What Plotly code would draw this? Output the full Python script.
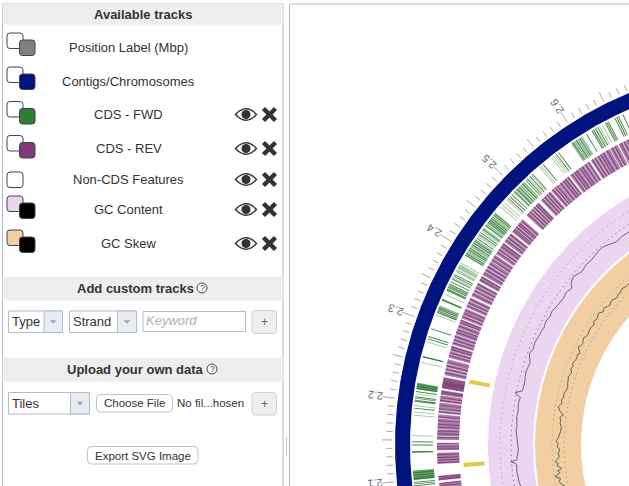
import numpy as np
import plotly.graph_objects as go

# genome positions are in Mbp, the map turns 125 degrees per Mbp
tick_labels = ["2.1", "2.2", "2.3", "2.4", "2.5", "2.6"]

fwd_solid = [(2.1, 2.112), (2.1344, 2.136), (2.2144, 2.2224), (2.2552, 2.2568)]
fwd_blocks = [(2.4384, 2.46), (2.4936, 2.5136), (2.5888, 2.6064), (2.3136, 2.324), (2.3944, 2.4184)]
fwd_dark = [2.058, 2.0605, 2.0925, 2.0948, 2.0968, 2.101, 2.103, 2.106, 2.109, 2.1352, 2.144, 2.148,
            2.1904, 2.199, 2.2005, 2.203, 2.2048, 2.2115, 2.2155, 2.218, 2.2205, 2.256, 2.2792, 2.2824,
            2.2928, 2.3145, 2.3165, 2.319, 2.321, 2.3312, 2.3322, 2.3448, 2.3464, 2.3488, 2.3512, 2.3536,
            2.3568, 2.3608, 2.3648, 2.367, 2.395, 2.3975, 2.4025, 2.405, 2.4105, 2.4135, 2.416,
            2.4205, 2.4265, 2.429, 2.4345, 2.44, 2.445, 2.447, 2.449, 2.4515, 2.4565, 2.459,
            2.4845, 2.4875, 2.491, 2.496, 2.5, 2.504, 2.51, 2.516, 2.5185, 2.523, 2.5275,
            2.5455, 2.5665, 2.57, 2.592, 2.597, 2.602, 2.612, 2.62, 2.6225, 2.625, 2.6285, 2.6395, 2.6415,
            2.6435, 2.653, 2.6555, 2.658, 2.664]
fwd_pale = [2.1557, 2.1816, 2.1856, 2.1936, 2.2085, 2.2488, 2.2752, 2.3112, 2.323, 2.3392, 2.3712, 2.3736,
            2.376, 2.3784, 2.381, 2.3835, 2.4, 2.408, 2.418, 2.423, 2.4315, 2.436, 2.4425, 2.454,
            2.47, 2.4735, 2.477, 2.482, 2.54, 2.559, 2.562, 2.631, 2.635, 2.3456, 2.35, 2.3525, 2.3628,
            2.3725, 2.3772, 2.3798, 2.4248, 2.4332, 2.5015, 2.507, 2.5125, 2.5205, 2.5255, 2.5425, 2.5645,
            2.5905, 2.5945, 2.5995, 2.6045, 2.6215, 2.6265, 2.6555]

rev_blocks = [(2.068, 2.0928), (2.096, 2.1024), (2.1184, 2.1336), (2.1368, 2.144), (2.1448, 2.1472),
              (2.1512, 2.1856), (2.1872, 2.2016), (2.2024, 2.2112), (2.212, 2.2184), (2.2208, 2.236),
              (2.2392, 2.2608), (2.2632, 2.28), (2.2816, 2.2952), (2.296, 2.3176), (2.3192, 2.3336),
              (2.3352, 2.3496), (2.352, 2.372), (2.3744, 2.3824), (2.384, 2.416), (2.4176, 2.436),
              (2.4376, 2.452), (2.4544, 2.4768), (2.484, 2.508), (2.512, 2.5296), (2.5312, 2.5616),
              (2.564, 2.596), (2.5984, 2.628), (2.6288, 2.64), (2.6416, 2.672), (2.676, 2.704)]
rev_dark = [2.072, 2.0775, 2.083, 2.0885, 2.0915, 2.097, 2.099, 2.101, 2.12, 2.1235, 2.127, 2.131,
            2.1385, 2.1415, 2.1455, 2.154, 2.159, 2.163, 2.168, 2.172, 2.177, 2.182, 2.189, 2.193, 2.198,
            2.2045, 2.208, 2.2145, 2.2165, 2.222, 2.2235, 2.225, 2.2265, 2.228, 2.2295, 2.231, 2.233, 2.235,
            2.242, 2.247, 2.252, 2.257, 2.266, 2.27, 2.275, 2.278, 2.284, 2.288, 2.293, 2.299, 2.303,
            2.308, 2.313, 2.316, 2.322, 2.326, 2.331, 2.338, 2.342, 2.347, 2.355, 2.36, 2.365, 2.37,
            2.377, 2.381, 2.387, 2.392, 2.397, 2.402, 2.408, 2.413, 2.421, 2.425, 2.43, 2.434, 2.441,
            2.445, 2.45, 2.457, 2.46, 2.463, 2.467, 2.47, 2.474, 2.487, 2.491, 2.495, 2.499, 2.503, 2.506,
            2.515, 2.519, 2.523, 2.527, 2.534, 2.538, 2.541, 2.547, 2.552, 2.556, 2.56, 2.567, 2.571, 2.575,
            2.58, 2.584, 2.589, 2.594, 2.601, 2.605, 2.61, 2.614, 2.618, 2.624, 2.632, 2.636, 2.645, 2.65,
            2.655, 2.66, 2.667]
rev_gaps = [2.0745, 2.081, 2.156, 2.1655, 2.18, 2.191, 2.2065, 2.245, 2.2495, 2.254, 2.268, 2.2725, 2.286,
            2.2905, 2.305, 2.311, 2.324, 2.34, 2.345, 2.358, 2.363, 2.368, 2.39, 2.395, 2.4, 2.406, 2.411,
            2.4225, 2.427, 2.443, 2.448, 2.461, 2.4655, 2.472, 2.489, 2.493, 2.497, 2.501, 2.5165, 2.521,
            2.525, 2.536, 2.5395, 2.545, 2.55, 2.558, 2.569, 2.578, 2.587, 2.592, 2.603, 2.6075, 2.612,
            2.621, 2.634, 2.648, 2.653, 2.663]

noncds_blocks = [(2.2345, 2.2405), (2.112, 2.118)]

gc_pos = [2.064, 2.0712, 2.0776, 2.088, 2.0984, 2.1088, 2.112, 2.1152, 2.1176, 2.1248, 2.1352, 2.148, 2.154,
          2.16, 2.1704, 2.177, 2.184, 2.1936, 2.204, 2.2176, 2.228, 2.2344, 2.24, 2.2448, 2.26, 2.2656, 2.276,
          2.2904, 2.2984, 2.3064, 2.316, 2.328, 2.3464, 2.352, 2.3568, 2.364, 2.372, 2.38, 2.3888, 2.404, 2.42,
          2.432, 2.4432, 2.4496, 2.4608, 2.4768, 2.484, 2.492, 2.503, 2.5136, 2.524, 2.5344, 2.548, 2.5576,
          2.572, 2.5856, 2.6]
gc_pct = [32.75, 32.8, 33.25, 33.3, 33.75, 33.5, 34, 36.4, 33.35, 33, 32.35, 32.75, 32.9, 33.25, 33.7, 33.3,
          33.5, 33.9, 33.5, 34, 33.5, 36.5, 33.2, 33, 33.1, 33.5, 33.75, 33.1, 34, 35, 34, 34.5, 33.7, 33.9,
          33.3, 33.9, 34, 33.4, 33.9, 33, 32.6, 33.1, 32.15, 34, 35.1, 33.55, 33.9, 34.25, 34.0, 34.5, 34.9,
          34.8, 33.5, 32.45, 33, 32.8, 32.5]

skew_pos = [2.056, 2.062, 2.068, 2.0735, 2.0792, 2.083, 2.0864, 2.09, 2.0944, 2.098, 2.1016, 2.105, 2.1096,
            2.115, 2.12, 2.127, 2.1336, 2.138, 2.1424, 2.147, 2.1512, 2.157, 2.164, 2.173, 2.1832, 2.19,
            2.196, 2.202, 2.208, 2.215, 2.2232, 2.228, 2.232, 2.238, 2.245, 2.2528, 2.26, 2.268, 2.275,
            2.2824, 2.2888, 2.294, 2.3, 2.306, 2.312, 2.3184, 2.325, 2.332, 2.338, 2.344, 2.349, 2.3544,
            2.359, 2.364, 2.37, 2.376, 2.382, 2.388, 2.396, 2.4048, 2.41, 2.416, 2.425, 2.4352, 2.44, 2.444,
            2.448, 2.452, 2.458, 2.464, 2.47, 2.476, 2.481, 2.4864, 2.491, 2.496, 2.502, 2.508, 2.516, 2.524,
            2.53, 2.536, 2.544, 2.552]
skew_val = [-.025, .01, .025, .005, .058, .02, .005, .025, -.019, .01, .025, .008, .041, .012, -.005, .006,
            -.014, .004, .015, .002, .025, .008, -.005, -.018, -.02, -.004, -.01, .004, -.027, .012, .035,
            .016, .005, .018, .002, .007, -.008, -.015, -.002, .001, .011, .0, -.005, .012, .002, .015, .004,
            -.005, .008, -.012, .01, .032, .014, .005, .018, .025, .008, .005, .016, .013, .004, .025, .012,
            .035, .018, .005, .016, .02, .004, -.006, .008, .01, -.004, -.01, .006, -.002, .01, .015, .002,
            .007, -.004, -.01, .002, .005]

track_names = ["Position Label (Mbp)", "Contigs/Chromosomes", "CDS - FWD", "CDS - REV",
               "Non-CDS Features", "GC Content", "GC Skew"]
track_back = ["white", "white", "white", "white", "white", "#ebd5f0", "#f2cfa3"]
track_front = ["#808080", "#00137f", "#317d35", "#803a78", None, "black", "black"]
track_box_y = [33, 67, 101.5, 135.5, 172, 196, 230]
track_text_y = [47, 81, 114.5, 148.5, 179.5, 209.5, 243.5]
track_has_icons = [False, False, True, True, True, True, True]

CX, CY = 777, 445
FONT = "Liberation Sans"
TEXT = "#333333"


def angle(pos):
    return np.radians((np.asarray(pos, dtype=float) - 2.144) * 125)


def xy(pos, r):
    a = angle(pos)
    return CX - r * np.cos(a), CY - r * np.sin(a)


def wedges(items, r0, r1):
    xs, ys = [], []
    for p0, p1 in items:
        arc = np.linspace(p0, p1, max(2, int((p1 - p0) * 400) + 2))
        xa, ya = xy(arc, r1)
        xb, yb = xy(arc[::-1], r0)
        xs += list(xa) + list(xb) + [xa[0], None]
        ys += list(ya) + list(yb) + [ya[0], None]
    return xs, ys


def add_fill(items, r0, r1, color):
    x, y = wedges(items, r0, r1)
    fig.add_trace(go.Scatter(x=x, y=y, mode="lines", fill="toself", fillcolor=color,
                             line=dict(width=0), hoverinfo="skip"))


def add_circle(r, color, dash="solid", width=1):
    arc = np.linspace(2.03, 2.76, 300)
    x, y = xy(arc, r)
    fig.add_trace(go.Scatter(x=x, y=y, mode="lines", line=dict(color=color, width=width, dash=dash),
                             hoverinfo="skip"))


def rrect(x0, y0, x1, y1, r=3, fill="white", line="#b4bccc", width=1):
    path = (f"M{x0+r},{y0} L{x1-r},{y0} Q{x1},{y0} {x1},{y0+r} L{x1},{y1-r} Q{x1},{y1} {x1-r},{y1} "
            f"L{x0+r},{y1} Q{x0},{y1} {x0},{y1-r} L{x0},{y0+r} Q{x0},{y0} {x0+r},{y0} Z")
    fig.add_shape(type="path", path=path, fillcolor=fill, line=dict(color=line, width=width), xref="x", yref="y")


def box(x0, y0, x1, y1, fill="white", line="#b4bccc", width=1):
    fig.add_shape(type="rect", x0=x0, y0=y0, x1=x1, y1=y1, fillcolor=fill,
                  line=dict(color=line, width=width), xref="x", yref="y")


def label(x, y, s, size=13, color=TEXT, anchor="center", angle_deg=0):
    fig.add_annotation(x=x, y=y, text=s, showarrow=False, xanchor=anchor, yanchor="middle",
                       textangle=angle_deg, font=dict(family=FONT, size=size, color=color),
                       xref="x", yref="y", borderpad=0, borderwidth=0)


def eye(cx, cy):
    fig.add_shape(type="path", path=f"M{cx-11.5},{cy} Q{cx},{cy-13} {cx+11.5},{cy} Q{cx},{cy+13} {cx-11.5},{cy} Z",
                  fillcolor="#333333", line=dict(width=0), xref="x", yref="y")
    fig.add_shape(type="path", path=f"M{cx-9.5},{cy} Q{cx},{cy-10} {cx+9.5},{cy} Q{cx},{cy+10} {cx-9.5},{cy} Z",
                  fillcolor="white", line=dict(width=0), xref="x", yref="y")
    fig.add_shape(type="circle", x0=cx-4.5, y0=cy-4.5, x1=cx+4.5, y1=cy+4.5, fillcolor="#333333",
                  line=dict(width=0), xref="x", yref="y")


def cross(cx, cy):
    for d in (1, -1):
        fig.add_shape(type="line", x0=cx-6, y0=cy-6*d, x1=cx+6, y1=cy+6*d,
                      line=dict(color="#333333", width=4.5), xref="x", yref="y")


def select(x0, x1, div, y0, y1, s):
    box(x0, y0, x1, y1)
    box(div, y0, x1, y1, fill="#e9ecf3")
    mid = (div + x1) / 2
    fig.add_shape(type="path", path=f"M{mid-3.5},{(y0+y1)/2-1.5} L{mid+3.5},{(y0+y1)/2-1.5} L{mid},{(y0+y1)/2+2} Z",
                  fillcolor="#8fa5c8", line=dict(width=0), xref="x", yref="y")
    label(x0 + 3, (y0 + y1) / 2, s, size=13, anchor="left")


def plus(y0, y1):
    rrect(252, y0, 276.5, y1, r=3, fill="#eeeeee", line="#d0d0d0")
    label(264.5, (y0 + y1) / 2, "+", size=12, color="#666666")


def help_icon(cx, cy):
    fig.add_shape(type="circle", x0=cx-5, y0=cy-5, x1=cx+5, y1=cy+5, fillcolor="white",
                  line=dict(color="#444444", width=1), xref="x", yref="y")
    label(cx, cy, "?", size=9, color="#444444")


fig = go.Figure()

# map bands
arc_all = [(2.03, 2.76)]
add_fill(arc_all, 367, 382, "#00137f")
add_fill(arc_all, 244, 289, "#ebd5f0")
add_fill(arc_all, 196, 242, "#f2cfa3")

# features
add_fill(fwd_solid, 344, 365, "rgba(49,125,53,0.75)")
add_fill(fwd_blocks, 344, 365, "rgba(49,125,53,0.3)")
add_fill([(p - 0.0005, p + 0.0005) for p in fwd_pale], 344, 365, "rgba(49,125,53,0.5)")
add_fill([(p - 0.0006, p + 0.0006) for p in fwd_dark], 344, 365, "rgba(40,115,45,0.85)")
add_fill(rev_blocks, 318, 340, "#ab80a8")
add_fill([(p - 0.0007, p + 0.0007) for p in rev_dark], 318, 340, "rgba(120,45,112,0.75)")
add_fill([(p - 0.0003, p + 0.0003) for p in rev_gaps], 317, 341, "rgba(255,255,255,0.8)")
add_fill(noncds_blocks, 293, 314, "#e3c84b")

# dotted rings and plots
for r, c in [(277, "#b9a9c4"), (266, "#8f7f9c"), (225, "#b3aa9a"), (213, "#a89f8f")]:
    add_circle(r, c, dash="1.5px,3.5px", width=1)

gx, gy = xy(gc_pos, 260 + (np.array(gc_pct) - 33) * 2)
fig.add_trace(go.Scatter(x=gx, y=gy, mode="lines", line=dict(color="#6d6673", width=1), hoverinfo="skip"))
sx, sy = xy(skew_pos, 218.5 + np.array(skew_val) * 100)
fig.add_trace(go.Scatter(x=sx, y=sy, mode="lines", line=dict(color="#65604f", width=1), hoverinfo="skip"))

# ruler
tx, ty = [], []
for i in range(203, 276):
    p = i / 100
    r = 398 if i % 10 == 0 else (395 if i % 5 == 0 else 391)
    x0, y0 = xy(p, 384.5)
    x1, y1 = xy(p, r)
    tx += [x0, x1, None]
    ty += [y0, y1, None]
fig.add_trace(go.Scatter(x=tx, y=ty, mode="lines", line=dict(color="#aaaaaa", width=1), hoverinfo="skip"))
for t in tick_labels:
    lx, ly = xy(float(t), 404)
    label(float(lx), float(ly), t, size=11, color="#666e7a", angle_deg=180 + (float(t) - 2.144) * 125)

# left panel
box(2.5, 4, 283, 490, line="#b4bccc")
box(289.5, 4, 640, 490, fill="rgba(0,0,0,0)", line="#b4bccc")
box(3, 4.5, 282.5, 24, fill="#eeeeee", line="#eeeeee")
label(143, 14.5, "<b>Available tracks</b>", size=13)

for i, name in enumerate(track_names):
    y = track_box_y[i]
    rrect(7, y, 23, y + 15.5, fill=track_back[i], line="#444444")
    if track_front[i]:
        rrect(19.5, y + 7, 35, y + 22.5, fill=track_front[i], line="#444444")
    label(128.5, track_text_y[i], name)
    if track_has_icons[i]:
        eye(246, track_text_y[i])
        cross(269.5, track_text_y[i])

box(3, 277, 282.5, 300, fill="#eeeeee", line="#eeeeee")
label(135, 288.5, "<b>Add custom tracks</b>", size=13)
help_icon(202, 288)
select(8.5, 62.5, 44, 311, 332.5, "Type")
select(69.5, 136.5, 117.5, 311, 332.5, "Strand")
box(143, 311.5, 245.5, 331.5)
label(146, 320.5, "<i>Keyword</i>", size=13, color="#b0b0b0", anchor="left")
plus(310.5, 333.5)

box(3, 358, 282.5, 381, fill="#eeeeee", line="#eeeeee")
label(135, 369.5, "<b>Upload your own data</b>", size=13)
help_icon(212, 369)
select(8.5, 89.5, 70.5, 392.5, 414, "Tiles")
rrect(96.5, 394.5, 172.5, 412, r=4, line="#c4c4c4")
label(134.5, 403, "Choose File", size=11.5)
label(177, 403, "No fil...hosen", size=11.5, anchor="left")
plus(392.5, 415)
rrect(87.5, 446.5, 198, 464, r=4, line="#c4c4c4")
label(143, 455.5, "Export SVG Image", size=11.5)
fig.add_shape(type="line", x0=286.5, y0=437, x1=286.5, y1=456, line=dict(color="#c8c8c8", width=1), xref="x", yref="y")

fig.update_layout(
    width=629, height=486, margin=dict(l=0, r=0, t=0, b=0),
    paper_bgcolor="white", plot_bgcolor="white", showlegend=False,
    xaxis=dict(range=[0, 629], visible=False, fixedrange=True),
    yaxis=dict(range=[486, 0], visible=False, fixedrange=True),
)

fig.write_html("out.html", config=dict(displayModeBar=False),
               post_script="document.body.style.margin='0';")
